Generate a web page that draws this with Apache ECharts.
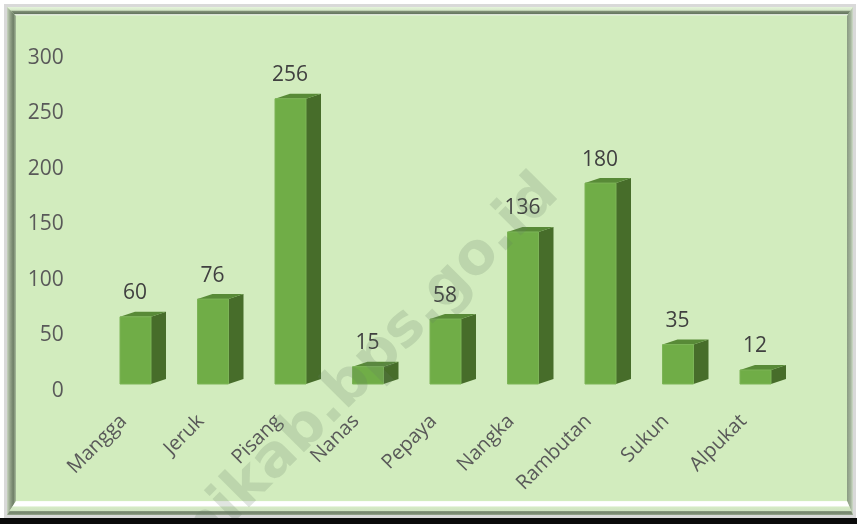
<!DOCTYPE html>
<html>
<head>
<meta charset="utf-8">
<style>
  html, body { margin: 0; padding: 0; background: #fff; }
  #chart { width: 857px; height: 524px; }
</style>
</head>
<body>
<div id="chart"></div>
<script src="https://cdn.jsdelivr.net/npm/echarts@6/dist/echarts.min.js"></script>
<script>
const categories = ["Mangga", "Jeruk", "Pisang", "Nanas", "Pepaya", "Nangka", "Rambutan", "Sukun", "Alpukat"];
const production = [60, 76, 256, 15, 58, 136, 180, 35, 12];
// heights as drawn, the picture's bars sit slightly above their printed numbers
const barHeights = [60.5, 76.5, 257, 15.6, 58.5, 137, 181, 35.5, 12.6];
const yTicks = { min: 0, max: 300, interval: 50 };

const FONT = '"Open Sans", sans-serif';
const FRONT = "#70ad47", SIDE = "#476d2a", TOP = "#588a37";
const BAR_W = 31, DX = 15, DY = 5;

function vgrad(stops) {
  return new echarts.graphic.LinearGradient(0, 0, 0, 1, stops.map((s) => ({ offset: s[0], color: s[1] })));
}
function hgrad(stops) {
  return new echarts.graphic.LinearGradient(0, 0, 1, 0, stops.map((s) => ({ offset: s[0], color: s[1] })));
}
function poly(points, fill, z) {
  return { type: "polygon", silent: true, z: z, shape: { points: points }, style: { fill: fill } };
}

function renderBar(params, api) {
  const i = api.value(0);
  const top = api.coord([i, api.value(1)]);
  const base = api.coord([i, 0]);
  const l = top[0] - BAR_W / 2, r = top[0] + BAR_W / 2;
  return {
    type: "group",
    children: [
      { type: "polygon", shape: { points: [[r, top[1]], [r + DX, top[1] - DY], [r + DX, base[1] - DY], [r, base[1]]] }, style: { fill: SIDE } },
      { type: "polygon", shape: { points: [[l, top[1]], [l + DX, top[1] - DY], [r + DX, top[1] - DY], [r, top[1]]] }, style: { fill: TOP } },
      { type: "rect", shape: { x: l, y: top[1], width: BAR_W, height: base[1] - top[1] }, style: { fill: FRONT, stroke: "#7cb457", lineWidth: 1 } },
      {
        type: "text",
        style: {
          x: top[0] - 0.5, y: top[1] - 23.5, text: String(production[i]),
          fill: "#404040", font: "21px " + FONT, textAlign: "center", textVerticalAlign: "middle",
        },
      },
    ],
  };
}

const chart = echarts.init(document.getElementById("chart"), null, { renderer: "canvas" });
chart.setOption({
  animation: false,
  backgroundColor: "#ffffff",
  textStyle: { fontFamily: FONT },
  grid: { left: 96.75, right: 62.75, top: 51, bottom: 140 },
  xAxis: {
    type: "category",
    data: categories,
    axisLine: { show: false },
    axisTick: { show: false },
    axisLabel: { interval: 0, rotate: 45, margin: 22, fontSize: 20, color: "#595959", fontFamily: FONT, padding: [0, 17, 0, 0] },
  },
  yAxis: {
    type: "value",
    min: yTicks.min,
    max: yTicks.max,
    interval: yTicks.interval,
    splitLine: { show: false },
    axisLine: { show: false },
    axisTick: { show: false },
    axisLabel: {
      margin: 33,
      formatter: "{v|{value}}",
      // the picture's tick numbers sit a little under their value
      rich: { v: { fontSize: 21, color: "#595959", fontFamily: FONT, padding: [14, 0, 0, 0] } },
    },
  },
  series: [
    {
      type: "custom",
      renderItem: renderBar,
      clip: false,
      z: 5,
      data: barHeights.map((v, i) => [i, v]),
    },
  ],
  graphic: [
    // panel and bevelled frame, under the grid
    { type: "rect", silent: true, z: -10, zlevel: -1, shape: { x: 4, y: 4, width: 852, height: 514 }, style: { fill: "#d9d9d9" } },
    { type: "rect", silent: true, z: -9, zlevel: -1, shape: { x: 7, y: 7, width: 846, height: 508 }, style: { fill: "#d2ecbe" } },
    Object.assign(poly([[7, 7], [853, 7], [847, 16], [16, 16]], vgrad([[0, "#e4f4da"], [0.35, "#d6e8ca"], [0.5, "#7d8d74"], [0.72, "#667660"], [0.85, "#eef4ea"], [1, "#d2ecbe"]]), -8), { zlevel: -1 }),
    Object.assign(poly([[7, 7], [16, 16], [16, 501], [7, 515]], hgrad([[0, "#c8d4c0"], [0.35, "#94a48a"], [0.7, "#6f7f67"], [1, "#a8bc9c"]]), -8), { zlevel: -1 }),
    Object.assign(poly([[853, 7], [847, 16], [847, 501], [853, 515]], hgrad([[0, "#8a9a82"], [0.6, "#a4b49c"], [1, "#cfdcc8"]]), -8), { zlevel: -1 }),
    Object.assign(poly([[7, 515], [16, 501], [847, 501], [853, 515]], vgrad([[0, "#f6fbf2"], [0.08, "#ffffff"], [0.36, "#ffffff"], [0.42, "#d6ebc6"], [0.7, "#cfe3c0"], [0.76, "#75856d"], [0.93, "#7d8d74"], [1, "#a0ae98"]]), -8), { zlevel: -1 }),
    // watermark sits over the bars
    {
      type: "text", silent: true, z: 100,
      x: 364, y: 371, rotation: Math.PI / 4,
      style: {
        text: "mikab.bps.go.id", fill: "rgba(100,126,100,0.2)",
        font: 'bold 58px "DejaVu Sans", sans-serif', textAlign: "center", textVerticalAlign: "middle",
      },
    },
    // black strip closes the bottom of the picture
    { type: "rect", silent: true, z: 110, shape: { x: 0, y: 518, width: 857, height: 6 }, style: { fill: "#0a0a0a" } },
  ],
});
</script>
</body>
</html>
